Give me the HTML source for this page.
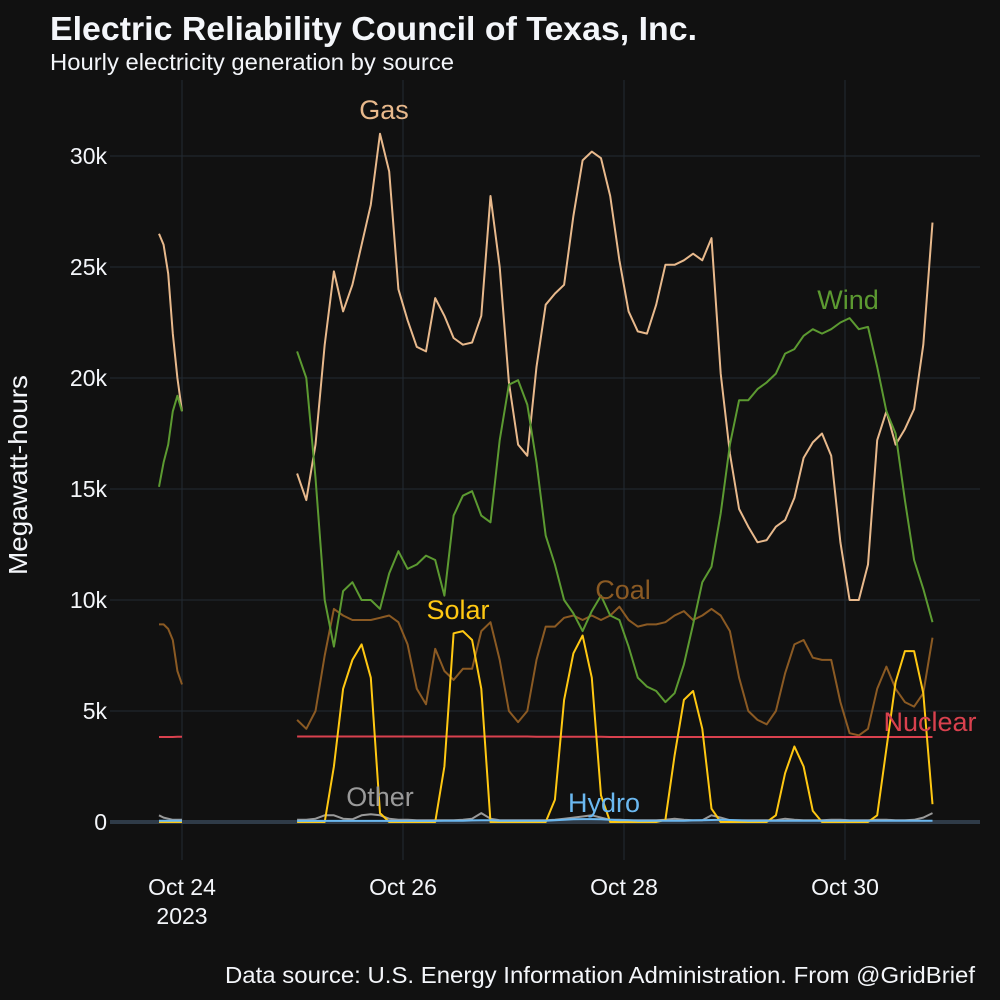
<!DOCTYPE html>
<html><head><meta charset="utf-8">
<style>
html,body{margin:0;padding:0;background:#111111;}
svg{display:block;font-family:"Liberation Sans",sans-serif;}
</style></head>
<body>
<svg id="chart" width="1000" height="1000" viewBox="0 0 1000 1000">
<rect width="1000" height="1000" fill="#111111"/>
<text x="50" y="40" fill="#f4f6fa" font-size="33.5" font-weight="bold" textLength="647" lengthAdjust="spacingAndGlyphs">Electric Reliability Council of Texas, Inc.</text>
<text x="50" y="70" fill="#f4f6fa" font-size="23" textLength="404" lengthAdjust="spacingAndGlyphs">Hourly electricity generation by source</text>
<text transform="translate(27,475) rotate(-90)" text-anchor="middle" fill="#f4f6fa" font-size="26" textLength="200" lengthAdjust="spacingAndGlyphs">Megawatt-hours</text>
<text x="975" y="983" text-anchor="end" fill="#f4f6fa" font-size="23" textLength="750" lengthAdjust="spacingAndGlyphs">Data source: U.S. Energy Information Administration. From @GridBrief</text>
<g id="grid"></g>
<g id="series"></g>
<g id="labels"></g>
</svg>
<script>
// time in hours from Oct 24 00:00
const seg1Times = [-5,-4,-3,-2,-1,0];
const seg2Start = 25, seg2Step = 2;
const yTicks = [0,5000,10000,15000,20000,25000,30000];
const yTickLabels = ["0","5k","10k","15k","20k","25k","30k"];
const xTickHours = [0,48,96,144];
const xTickLabels = ["Oct 24","Oct 26","Oct 28","Oct 30"];

const gas1 = [26500,26000,24700,22000,20000,18500];
const gas2 = [15700,14500,17000,21500,24800,23000,24200,26000,27800,31000,
29300,24000,22600,21400,21200,23600,22800,21800,21500,21600,
22800,28200,25000,19800,17000,16500,20500,23300,23800,24200,
27300,29800,30200,29900,28200,25300,23000,22100,22000,23300,
25100,25100,25300,25600,25300,26300,20200,16600,14100,13300,
12600,12700,13300,13600,14600,16400,17100,17500,16500,12600,
10000,10000,11600,17200,18500,17000,17700,18600,21500,27000];
const wind1 = [15100,16200,17000,18500,19200,18500];
const wind2 = [21200,20000,15500,10000,7900,10400,10800,10000,10000,9600,
11200,12200,11400,11600,12000,11800,10200,13800,14700,14900,
13800,13500,17200,19700,19900,18800,16200,12900,11600,10000,
9400,8600,9500,10200,9300,9100,7900,6500,6100,5900,
5400,5800,7100,8900,10800,11500,13900,17000,19000,19000,
19500,19800,20200,21100,21300,21900,22200,22000,22200,22500,
22700,22200,22300,20500,18500,17500,14500,11800,10500,9000];
const coal1 = [8900,8900,8700,8200,6800,6200];
const coal2 = [4600,4200,5000,7500,9600,9300,9100,9100,9100,9200,
9300,9000,8000,6000,5300,7800,6800,6400,6900,6900,
8600,9000,7300,5000,4500,5000,7300,8800,8800,9200,
9300,9100,9300,9100,9300,9700,9100,8800,8900,8900,
9000,9300,9500,9100,9300,9600,9300,8600,6500,5000,
4600,4400,5000,6700,8000,8200,7400,7300,7300,5400,
4000,3900,4200,6000,7000,6000,5400,5200,5800,8300];
const solar1 = [0,0,0,0,0,0];
const solar2 = [0,0,0,0,2500,6000,7300,8000,6500,400,
0,0,0,0,0,0,2500,8500,8600,8200,
6000,0,0,0,0,0,0,0,1000,5500,
7600,8400,6500,1200,0,0,0,0,0,0,
100,3000,5500,5900,4200,600,0,0,0,0,
0,0,300,2200,3400,2500,500,0,0,0,
0,0,0,300,3300,6300,7700,7700,5800,800];
const nuclear1 = [3830,3830,3830,3830,3840,3840];
const nuclear2 = [3850,3850,3850,3850,3850,3850,3850,3850,3850,3850,
3850,3850,3850,3850,3850,3850,3850,3850,3850,3850,
3850,3850,3850,3850,3850,3850,3840,3840,3840,3840,
3840,3840,3840,3840,3830,3830,3830,3830,3830,3830,
3830,3830,3830,3830,3830,3830,3830,3830,3830,3830,
3830,3830,3830,3830,3830,3830,3830,3830,3830,3830,
3830,3830,3830,3830,3830,3830,3830,3830,3830,3830];
const other1 = [300,200,150,100,100,100];
const other2 = [100,100,150,300,300,150,120,300,350,300,
150,100,100,80,80,80,80,80,100,150,
400,150,80,80,80,80,80,80,100,150,
200,250,300,200,100,100,80,80,80,80,
100,150,100,80,80,300,200,80,80,80,
80,80,80,150,100,80,80,80,100,100,
80,80,80,100,100,80,80,100,200,400];
const hydro1 = [60,60,60,60,60,60];
const hydro2 = [50,50,50,50,50,50,50,50,50,50,
50,50,50,50,50,50,60,60,60,70,
80,80,60,60,60,60,60,60,80,100,
120,130,130,120,100,80,80,60,60,60,
60,60,60,70,80,90,100,90,70,60,
60,60,60,60,60,60,60,60,60,60,
60,60,60,60,60,60,60,60,60,60];

const NS = "http://www.w3.org/2000/svg";
function xScale(h){ return 182 + h*(221/48); }
function yScale(v){ return 822 - v*(666/30000); }
function seg2Times(arr){ return arr.map((_,i)=>seg2Start+seg2Step*i); }

const grid = document.getElementById('grid');
yTicks.forEach((t,i)=>{
  const l = document.createElementNS(NS,'line');
  
  
  l.setAttribute('x1',110); l.setAttribute('x2',980);
  l.setAttribute('y1',yScale(t)); l.setAttribute('y2',yScale(t));
  l.setAttribute('stroke', t===0 ? '#2f3b48' : '#222a33');
  l.setAttribute('stroke-width', t===0 ? 4 : 1);
  grid.appendChild(l);
  const tx = document.createElementNS(NS,'text');
  
  
  tx.setAttribute('x',107); tx.setAttribute('y',yScale(t)+8);
  tx.setAttribute('text-anchor','end'); tx.setAttribute('fill','#f4f6fa');
  tx.setAttribute('font-size','23');
  tx.textContent = yTickLabels[i];
  grid.appendChild(tx);
});
xTickHours.forEach((h,i)=>{
  const l = document.createElementNS(NS,'line');
  
  
  l.setAttribute('x1',xScale(h)); l.setAttribute('x2',xScale(h));
  l.setAttribute('y1',80); l.setAttribute('y2',860);
  l.setAttribute('stroke','#222a33'); l.setAttribute('stroke-width',1);
  grid.insertBefore(l, grid.firstChild);
  const tx = document.createElementNS(NS,'text');
  
  
  tx.setAttribute('x',xScale(h)); tx.setAttribute('y',895);
  tx.setAttribute('text-anchor','middle'); tx.setAttribute('fill','#f4f6fa');
  tx.setAttribute('font-size','23');
  tx.textContent = xTickLabels[i];
  grid.appendChild(tx);
});
{
  const tx = document.createElementNS(NS,'text');
  
  
  tx.setAttribute('x',xScale(0)); tx.setAttribute('y',924);
  tx.setAttribute('text-anchor','middle'); tx.setAttribute('fill','#f4f6fa');
  tx.setAttribute('font-size','23');
  tx.textContent = '2023';
  grid.appendChild(tx);
}

const seriesG = document.getElementById('series');
function drawLine(times, vals, color, name){
  const p = document.createElementNS(NS,'path');
  
  
  p.setAttribute('d', vals.map((v,i)=>(i?'L':'M')+xScale(times[i]).toFixed(1)+','+yScale(v).toFixed(1)).join(''));
  p.setAttribute('fill','none'); p.setAttribute('stroke',color);
  p.setAttribute('stroke-width',2); p.setAttribute('stroke-linejoin','round');
  seriesG.appendChild(p);
}
const S = [
 ['other','#9a9a9a',other1,other2],
 ['nuclear','#d9414e',nuclear1,nuclear2],
 ['coal','#8b5a23',coal1,coal2],
 ['gas','#e8b98c',gas1,gas2],
 ['wind','#5c9a31',wind1,wind2],
 ['solar','#ffc812',solar1,solar2],
 ['hydro','#6bb8f0',hydro1,hydro2]
];
S.forEach(s=>{
  drawLine(seg1Times, s[2], s[1], s[0]+'-line-oct23');
  drawLine(seg2Times(s[3]), s[3], s[1], s[0]+'-line');
});

const labels = [
 ['Gas','#e8b98c',384,119],
 ['Wind','#5c9a31',848,309],
 ['Coal','#8b5a23',623,599],
 ['Solar','#ffc812',458,619],
 ['Nuclear','#d9414e',930,731],
 ['Other','#9a9a9a',380,806],
 ['Hydro','#6bb8f0',604,812]
];
const lg = document.getElementById('labels');
labels.forEach(l=>{
  const t = document.createElementNS(NS,'text');
  
  
  t.setAttribute('x',l[2]); t.setAttribute('y',l[3]);
  t.setAttribute('text-anchor','middle'); t.setAttribute('fill',l[1]);
  t.setAttribute('font-size','27');
  t.textContent = l[0];
  lg.appendChild(t);
});
</script>
</body></html>
